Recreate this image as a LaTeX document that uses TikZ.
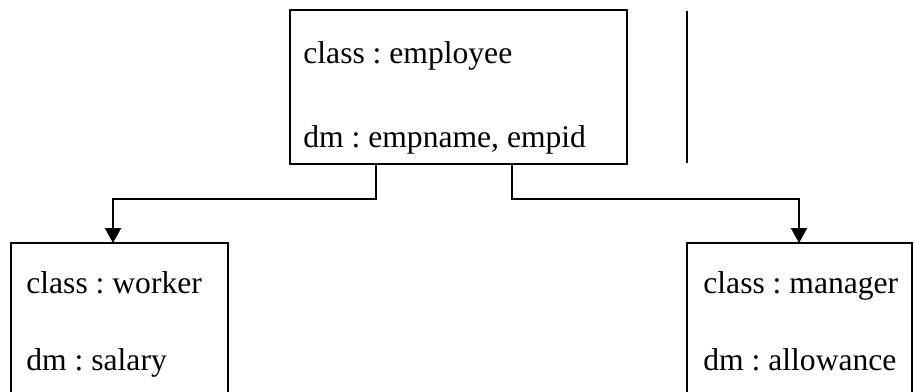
\documentclass[tikz,border=0pt]{standalone}
\usepackage{fontspec}
\setmainfont{Liberation Serif}
\usetikzlibrary{arrows.meta}
\frenchspacing
\begin{document}
\begin{tikzpicture}[x=0.5pt,y=-0.5pt,
  box/.style={draw,line width=1pt,rectangle,inner sep=0pt,outer sep=0pt,anchor=north west},
  txt/.style={anchor=base west,inner sep=0pt,font=\fontsize{15.8pt}{18pt}\selectfont\frenchspacing},
  conn/.style={line width=1pt,-{Triangle[length=7.5pt,width=8pt]}}]
\useasboundingbox (0,0) rectangle (914,391);
\clip (0,0) rectangle (914,391);
\node[box,minimum width=168.5pt,minimum height=77pt] (emp) at (290,10) {};
\node[box,minimum width=108.5pt,minimum height=100pt] (worker) at (11,243) {};
\node[box,minimum width=112.5pt,minimum height=100pt] (manager) at (687,243) {};
\node[txt] (t1) at (303,63) {class : employee};
\node[txt] (t2) at (303,147) {dm : empname, empid};
\node[txt] (t3) at (26,293) {class : worker};
\node[txt] (t4) at (26,370) {dm : salary};
\node[txt] (t5) at (703,293) {class : manager};
\node[txt] (t6) at (703,370) {dm : allowance};
\coordinate (v1) at (687,11);
\coordinate (v2) at (687,163);
\draw[line width=1pt] (v1) -- (v2);
\draw[conn] ([xshift=43pt]emp.south west) -- ++(0pt,-17.5pt) -| ([xshift=51pt]worker.north west);
\draw[conn] ([xshift=111pt]emp.south west) -- ++(0pt,-17.5pt) -| ([xshift=56pt]manager.north west);
\end{tikzpicture}
\end{document}
